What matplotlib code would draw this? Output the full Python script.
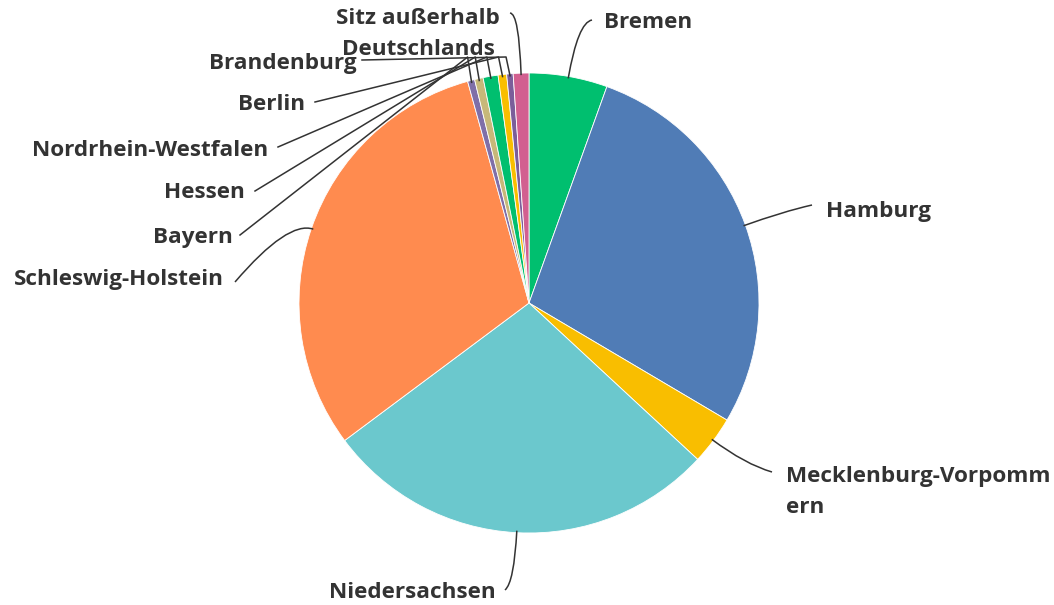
import numpy as np
import matplotlib
matplotlib.use('Agg')
import matplotlib.pyplot as plt
from matplotlib.path import Path
import matplotlib.patches as patches

# Slice data (clockwise from 12 o'clock)
labels = ['Bremen', 'Hamburg', 'Mecklenburg-Vorpommern', 'Niedersachsen',
          'Schleswig-Holstein', 'Bayern', 'Hessen', 'Nordrhein-Westfalen',
          'Berlin', 'Brandenburg', 'Sitz außerhalb Deutschlands']
values = [5.5, 28.0, 3.4, 27.9, 30.9, 0.5, 0.6, 1.05, 0.6, 0.45, 1.1]
colors = ['#00BF6F', '#507CB6', '#F9BE00', '#6BC8CD', '#FF8B4F', '#7F6FA8',
          '#C7B879', '#00BF6F', '#F9BE00', '#7B5E9A', '#D25F90']

# Displayed label text (some labels are wrapped like in the original)
shown = {
    'Mecklenburg-Vorpommern': 'Mecklenburg-Vorpomm\nern',
    'Sitz außerhalb Deutschlands': 'Sitz außerhalb\nDeutschlands',
}

W, H = 1054, 605
cx, cy, R = 529, 302, 230
txt_color = '#333333'

fig = plt.figure(figsize=(W / 100, H / 100), dpi=100)
ax = fig.add_axes([0, 0, 1, 1])
ax.set_xlim(0, W)
ax.set_ylim(0, H)
ax.set_aspect('equal')
ax.axis('off')

wedges, _ = ax.pie(values, colors=colors, center=(cx, cy), radius=R,
                   startangle=90, counterclock=False,
                   wedgeprops=dict(edgecolor='white', linewidth=0.6))
ax.set_xlim(0, W)
ax.set_ylim(0, H)


def edge_point(w, r):
    a = np.deg2rad((w.theta1 + w.theta2) / 2)
    return cx + r * np.cos(a), cy + r * np.sin(a)


def curve(p0, p1, p2):
    path = Path([p0, p1, p2], [Path.MOVETO, Path.CURVE3, Path.CURVE3])
    ax.add_patch(patches.PathPatch(path, facecolor='none', edgecolor='#333333', lw=1.1))


# layout: text pos, alignment, line end, and kind of leader line
layout = {
    'Bremen': ((604, 583), 'left', (592, 585), 'curve', 285),
    'Hamburg': ((826, 394), 'left', (812, 400), 'curve', 270),
    'Mecklenburg-Vorpommern': ((786, 113), 'left', (772, 133), 'curve', 270),
    'Niedersachsen': ((496, 13), 'right', (505, 15), 'curve', 280),
    'Schleswig-Holstein': ((224, 325), 'right', (235, 323), 'curve', 255),
    'Bayern': ((233, 367), 'right', (240, 370), 'elbow', 0),
    'Hessen': ((245, 412), 'right', (255, 414), 'elbow', 0),
    'Nordrhein-Westfalen': ((268, 455), 'right', (278, 458), 'elbow', 0),
    'Berlin': ((305, 501), 'right', (315, 503), 'elbow', 0),
    'Brandenburg': ((357, 541), 'right', (362, 545), 'elbow', 0),
    'Sitz außerhalb Deutschlands': ((418, 571), 'center', (510, 592), 'curve', 290),
}

for w, lab in zip(wedges, labels):
    (tx, ty), ha, end, kind, rc = layout[lab]
    p0 = edge_point(w, R - 2)
    if kind == 'curve':
        p1 = edge_point(w, rc)
        curve(p0, p1, end)
    else:
        mid = (p0[0] - 4, 548)
        ax.plot([p0[0], mid[0], end[0]], [p0[1], mid[1], end[1]],
                color='#333333', lw=1.1, solid_joinstyle='round')
    ax.text(tx, ty, shown.get(lab, lab), ha=ha, va='center',
            multialignment='left' if ha == 'left' else 'center', linespacing=1.6,
            fontsize=16.2, fontweight='bold', family='Open Sans', color=txt_color)

fig.savefig('out.png', dpi=100)
